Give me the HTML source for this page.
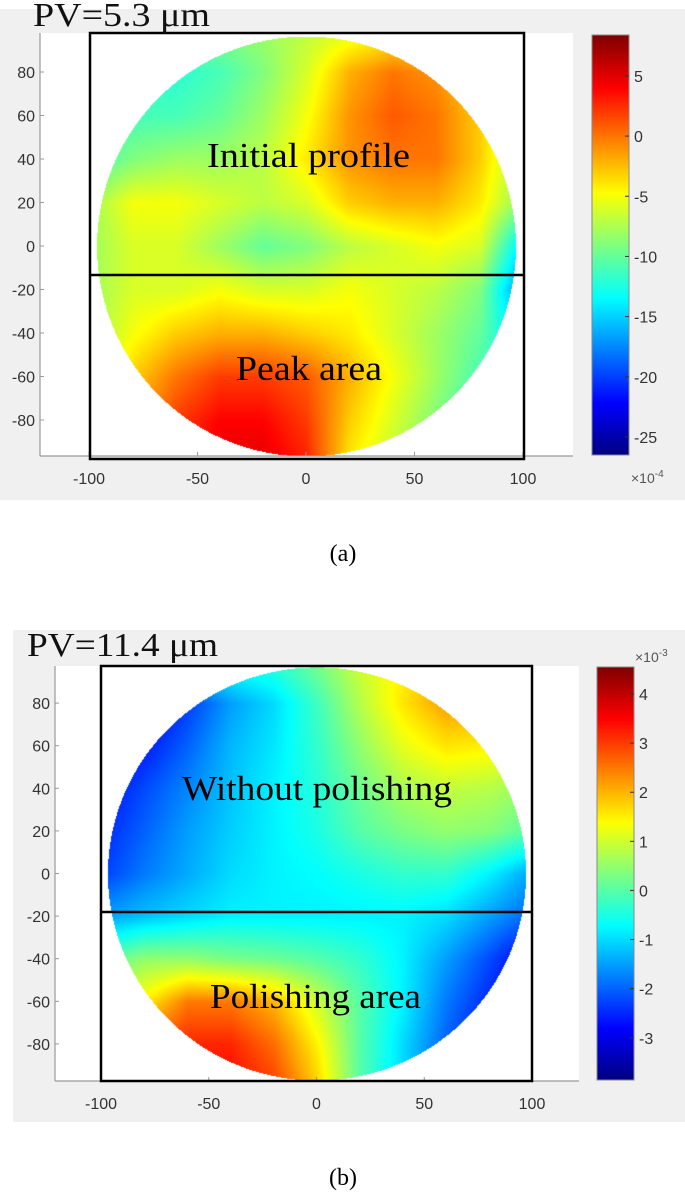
<!DOCTYPE html>
<html><head><meta charset="utf-8">
<style>
body{margin:0;background:#fff;}
#root{position:relative;width:685px;height:1198px;overflow:hidden;background:#fff;font-family:"Liberation Sans",sans-serif;}
canvas,svg{position:absolute;left:0;top:0;}
</style></head>
<body>
<div id="root">
<svg width="685" height="1198" style="z-index:0">
  <rect x="0" y="9" width="685" height="491" fill="#f0f0f0"/>
  <rect x="40" y="33" width="533" height="423" fill="#fff"/>
  <rect x="13" y="630" width="672" height="492" fill="#f0f0f0"/>
  <rect x="55" y="666" width="524" height="415" fill="#fff"/>
</svg>
<canvas id="cv" width="685" height="1198" style="z-index:1"></canvas>
<svg id="ov" width="685" height="1198" style="z-index:2"></svg>
</div>
<script>
// grid coordinates (units)
const gridX = [-100,-80,-60,-40,-20,0,20,40,60,80,100];
const gridY = [100,80,60,40,20,0,-20,-40,-60,-80,-100];
const axisTicks = [-80,-60,-40,-20,0,20,40,60,80];
const xTicks = [-100,-50,0,50,100];
const cbTicksA = [5,0,-5,-10,-15,-20,-25];
const cbTicksB = [4,3,2,1,0,-1,-2,-3];
// panel (a) surface values, x1e-4
const valuesA = [
[-9,-9,-9,-9,-8,-7,-6,-5,-6,-8,-9],
[-12,-12,-12,-11,-9,-6,-2,0,-1,-4,-8],
[-12,-11,-11,-10,-8,-5,-1,1,0,-3,-8],
[-11,-9,-8,-8,-7,-4,-1,0,0,-3,-8],
[-8,-5,-5,-6,-7,-6,-3,-2,-2,-4,-9],
[-8,-6,-6,-8,-10,-9,-7,-6,-5,-6,-15],
[-8,-6,-6,-5,-6,-6,-5,-6,-7,-9,-18],
[-8,-5,-3,-2,-2,-3,-4,-6,-8,-10,-15],
[-8,-3,0,2,2,1,-2,-5,-8,-11,-12],
[-8,-2,2,4,4,2,-3,-6,-9,-12,-12],
[-5,0,3,5,5,3,-4,-7,-10,-12,-12]];
// panel (b) surface values, x1e-3
const valuesB = [
[-1,-1,-1,-0.5,-0.3,0.3,1,1.5,2,2,2],
[-3,-3,-2.3,-1.5,-1,-0.2,0.8,1.6,2.2,2.2,2],
[-3,-2.6,-2,-1.3,-0.9,-0.3,0.5,1.2,1.6,1.5,1],
[-2.7,-2.2,-1.7,-1.2,-0.8,-0.4,0.2,0.7,0.9,0.8,0.5],
[-2.5,-2,-1.5,-1.1,-0.8,-0.5,0,0.3,0.5,0.4,0],
[-2.3,-1.8,-1.4,-1,-0.8,-0.7,-0.5,-0.3,-0.3,-0.8,-1.5],
[-1.5,-1.2,-1,-0.8,-0.8,-0.8,-0.8,-0.8,-1,-1.5,-2],
[0,0.5,0.5,0.3,0.2,0,-0.3,-0.8,-1.5,-2.2,-3],
[1,1.5,2.5,2.5,2,1,0,-0.8,-1.8,-2.5,-3],
[2,2.8,3.2,3.2,2.6,1.5,0,-1,-2,-2.8,-3.2],
[2,3,3.5,3.5,3,1.8,0,-1,-2,-3,-3]];

const panels = [
 {id:'a', vals:valuesA, vmin:-26.5, vmax:8.4, cx:306, sx:2.17, cy:246, sy:2.175, r:96.5,
  ax:[40,33,573,456], box:[90,33,524,459], lineY:275, cb:[592,35,629,455], cbT:cbTicksA,
  exp:'-4', expPos:[631,483], xlabY:484, pv:'PV=5.3 μm', pvPos:[33,26], pvW:177,
  notes:[['Initial profile',207,167,203,'initial-profile-label'],['Peak area',236,380,146,'peak-area-label']], cap:['(a)',553]},
 {id:'b', vals:valuesB, vmin:-3.86, vmax:4.55, cx:316.5, sx:2.155, cy:873.5, sy:2.13, r:97,
  ax:[55,666,579,1081], box:[101,666,532,1081], lineY:912, cb:[597,667,634,1080], cbT:cbTicksB,
  exp:'-3', expPos:[635,662], xlabY:1109, pv:'PV=11.4 μm', pvPos:[27,656], pvW:191,
  notes:[['Without polishing',182,800,270,'without-polishing-label'],['Polishing area',210,1008,211,'polishing-area-label']], cap:['(b)',1177]}
];

function jet(t){
  t=Math.max(0,Math.min(1,t));
  const c=v=>Math.round(255*Math.max(0,Math.min(1,v)));
  return [c(1.5-Math.abs(4*t-3)), c(1.5-Math.abs(4*t-2)), c(1.5-Math.abs(4*t-1))];
}
function sample(vals,x,y){
  let gi=(x-gridX[0])/(gridX[1]-gridX[0]), gj=(gridY[0]-y)/(gridY[0]-gridY[1]);
  gi=Math.max(0,Math.min(gridX.length-1.0001,gi)); gj=Math.max(0,Math.min(gridY.length-1.0001,gj));
  const i=Math.floor(gi), j=Math.floor(gj), fx=gi-i, fy=gj-j;
  const a=vals[j][i], b=vals[j][i+1], c=vals[j+1][i], d=vals[j+1][i+1];
  return a*(1-fx)*(1-fy)+b*fx*(1-fy)+c*(1-fx)*fy+d*fx*fy;
}
const cv=document.getElementById('cv'), ctx=cv.getContext('2d');
const img=ctx.createImageData(685,1198);
const ov=document.getElementById('ov'), NS='http://www.w3.org/2000/svg';
function mk(tag,attrs,txt){const e=document.createElementNS(NS,tag);for(const k in attrs)e.setAttribute(k,attrs[k]);if(txt!==undefined)e.textContent=txt;ov.appendChild(e);return e;}

panels.forEach(p=>{
  const x0=Math.floor(p.cx-p.r*p.sx), x1=Math.ceil(p.cx+p.r*p.sx);
  const y0=Math.floor(p.cy-p.r*p.sy), y1=Math.ceil(p.cy+p.r*p.sy);
  for(let py=y0;py<=y1;py++)for(let px=x0;px<=x1;px++){
    const x=(px-p.cx)/p.sx, y=(p.cy-py)/p.sy;
    if(x*x+y*y>p.r*p.r)continue;
    const v=sample(p.vals,x,y);
    const col=jet((v-p.vmin)/(p.vmax-p.vmin));
    const k=(py*685+px)*4; img.data[k]=col[0];img.data[k+1]=col[1];img.data[k+2]=col[2];img.data[k+3]=255;
  }
  const [cx0,cy0,cx1,cy1]=p.cb;
  for(let py=cy0;py<cy1;py++){const t=1-(py-cy0)/(cy1-cy0);const col=jet(t);
    for(let px=cx0;px<cx1;px++){const k=(py*685+px)*4;img.data[k]=col[0];img.data[k+1]=col[1];img.data[k+2]=col[2];img.data[k+3]=255;}}
});
ctx.putImageData(img,0,0);

panels.forEach(p=>{
  const [ax0,ay0,ax1,ay1]=p.ax;
  let e;
  e=mk('line',{x1:ax0,y1:ay0,x2:ax0,y2:ay1,stroke:'#999','stroke-width':1.2});
   
  e=mk('line',{x1:ax0,y1:ay1,x2:ax1,y2:ay1,stroke:'#999','stroke-width':1.2});
   
  axisTicks.forEach(t=>{
    const y=p.cy-t*p.sy;
    e=mk('line',{x1:ax0,y1:y,x2:ax0+4,y2:y,stroke:'#999'});
     
    e=mk('text',{x:ax0-5,y:y+6,'text-anchor':'end','font-size':16,fill:'#333'},String(t));
     
  });
  xTicks.forEach(t=>{
    const x=p.cx+t*p.sx;
    e=mk('line',{x1:x,y1:ay1,x2:x,y2:ay1-4,stroke:'#999'});
     
    e=mk('text',{x:x,y:p.xlabY,'text-anchor':'middle','font-size':16,fill:'#333'},String(t));
     
  });
  const [bx0,by0,bx1,by1]=p.box;
  e=mk('rect',{x:bx0,y:by0,width:bx1-bx0,height:by1-by0,fill:'none',stroke:'#000','stroke-width':2.5});
   
  e=mk('line',{x1:bx0,y1:p.lineY,x2:bx1,y2:p.lineY,stroke:'#000','stroke-width':2.5});
   
  const [cx0,cy0,cx1,cy1]=p.cb;
  e=mk('rect',{x:cx0,y:cy0,width:cx1-cx0,height:cy1-cy0,fill:'none',stroke:'#888','stroke-width':1});
   
  p.cbT.forEach(t=>{
    const y=cy1-(t-p.vmin)/(p.vmax-p.vmin)*(cy1-cy0);
    e=mk('line',{x1:cx1-4,y1:y,x2:cx1,y2:y,stroke:'#333'});
     
    e=mk('text',{x:cx1+5,y:y+6,'font-size':16,fill:'#333'},String(t));
     
  });
  e=mk('text',{x:p.expPos[0],y:p.expPos[1],'font-size':14,fill:'#555'});
  e.innerHTML='×10<tspan dy="-6" font-size="10">'+p.exp+'</tspan>';
   
  e=mk('text',{x:p.pvPos[0],y:p.pvPos[1],'font-size':34,'font-family':'Liberation Serif, serif',fill:'#111',textLength:p.pvW,lengthAdjust:'spacingAndGlyphs'},p.pv);
   
  p.notes.forEach(n=>{
    e=mk('text',{x:n[1],y:n[2],'font-size':35,'font-family':'Liberation Serif, serif',fill:'#000',textLength:n[3],lengthAdjust:'spacingAndGlyphs'},n[0]);
     
  });
  e=mk('text',{x:343,y:p.cap[1]+8,'text-anchor':'middle','font-size':24,'font-family':'Liberation Serif, serif',fill:'#000'},p.cap[0]);
   
});
</script>
</body></html>
